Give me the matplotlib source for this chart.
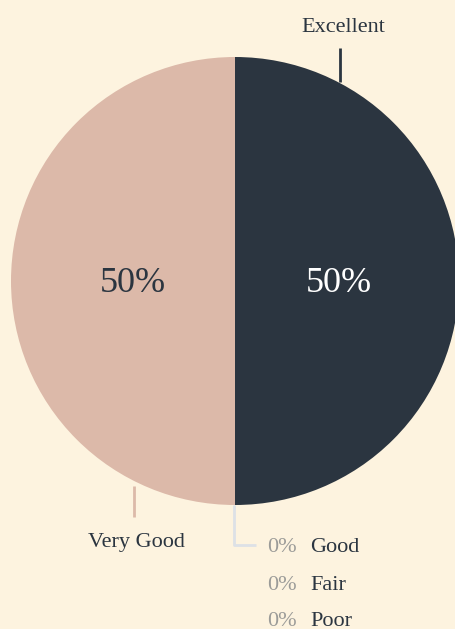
import matplotlib.pyplot as plt

labels = ["Excellent", "Very Good", "Good", "Fair", "Poor"]
shares = [50, 50, 0, 0, 0]
colors = ["#2b3540", "#dcb9a9", "#dde1e6", "#dde1e6", "#dde1e6"]

BG = "#fdf3df"
DARK = "#2b3540"
GREY = "#9b9b98"
FONT = ["Liberation Serif", "DejaVu Serif"]

W, H = 455, 629
CX, CY, R = 235, H - 281, 224
DY = 3  # nudge text down so glyphs sit visually centred

fig = plt.figure(figsize=(W / 100, H / 100), dpi=100, facecolor=BG)
ax = fig.add_axes([0, 0, 1, 1])

# pie in pixel-like data coordinates: Excellent clockwise from 12 o'clock
order = [0, 2, 3, 4, 1]
ax.pie(
    [shares[i] for i in order],
    colors=[colors[i] for i in order],
    startangle=90,
    counterclock=False,
    center=(CX, CY),
    radius=R,
    wedgeprops=dict(linewidth=0),
    frame=True,
)
ax.set_xlim(0, W)
ax.set_ylim(0, H)
ax.set_aspect("equal")
ax.axis("off")

# percentage labels inside the two halves
ax.text(CX + R * 0.465, CY - DY, f"{shares[0]}%", color="white", fontsize=26,
        ha="center", va="center", family=FONT)
ax.text(CX - R * 0.455, CY - DY, f"{shares[1]}%", color=DARK, fontsize=26,
        ha="center", va="center", family=FONT)

# Excellent leader
ax.plot([340, 340], [H - 82, H - 48], color=DARK, lw=2, solid_capstyle="butt")
ax.text(343, H - 24 - DY, labels[0], color=DARK, fontsize=16, ha="center",
        va="center", family=FONT)

# Very Good leader
ax.plot([134, 134], [H - 486, H - 517], color=colors[1], lw=2,
        solid_capstyle="butt")
ax.text(136, H - 539 - DY, labels[1], color=DARK, fontsize=16, ha="center",
        va="center", family=FONT)

# zero-share leaders and labels
ax.plot([234, 234, 256], [H - 505, H - 545, H - 545], color=colors[2], lw=2,
        solid_capstyle="butt")
for k, (name, val) in enumerate(zip(labels[2:], shares[2:])):
    y = H - (545 + 37 * k) - DY
    ax.text(297, y, f"{val}%", color=GREY, fontsize=16, ha="right",
            va="center", family=FONT)
    ax.text(310, y, name, color=DARK, fontsize=16, ha="left",
            va="center", family=FONT)

fig.savefig("out.png", dpi=100, facecolor=BG)
